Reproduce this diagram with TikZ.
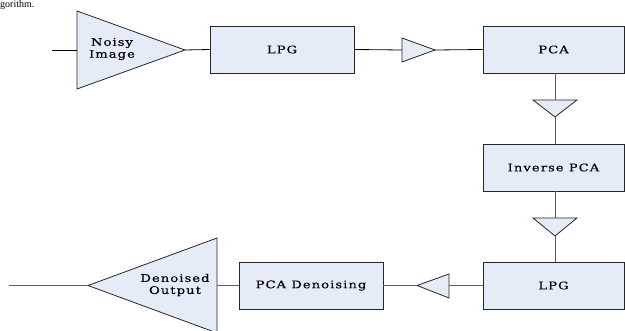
\documentclass[tikz,border=0pt]{standalone}
\usepackage{fontspec}
\setmainfont{Liberation Serif}
\newfontfamily\blockfont[LetterSpace=10, FakeStretch=1.25, FakeBold=0.2]{DejaVu Serif}
\definecolor{blockfill}{HTML}{E6ECF7}
\definecolor{wire}{HTML}{5E5E5E}
\tikzset{
  blockbox/.style={draw=black!85, fill=blockfill, line width=0.8pt, minimum width=144pt, minimum height=47pt,
    inner sep=0pt, font=\blockfont\fontsize{10.5}{12}\selectfont},
  ampshape/.style={draw=black!85, fill=blockfill, line width=0.8pt, line join=miter},
  toplink/.style={draw=black, line width=0.8pt},
  link/.style={draw=wire, line width=1pt},
  amplabel/.style={font=\blockfont\fontsize{10.5}{12}\selectfont, align=center, inner sep=0pt}
}
\begin{document}
\begin{tikzpicture}[x=1pt, y=-1pt]
\useasboundingbox (0,0) rectangle (625,331);
\begin{scope}
\clip (0,0) rectangle (625,331);
% tail of the preceding paragraph
\node[anchor=base west, inner sep=0pt, font=\fontsize{10}{12}\selectfont] (prev) at (0,7.5) {gorithm.};

% processing blocks
\node[blockbox, minimum width=144pt] (lpg1) at (282,49.5) {LPG};
\node[blockbox, minimum width=141pt] (pca) at (553.5,49.5) {PCA};
\node[blockbox, minimum width=141pt] (ipca) at (553.5,167.5) {Inverse PCA};
\node[blockbox, minimum width=141pt] (lpg2) at (553.5,285.5) {LPG};
\node[blockbox, minimum width=144pt] (den) at (311,285.5) {PCA Denoising};

% input amplifier
\coordinate (inA) at (77,50);
\coordinate (inT) at (185,50);
\coordinate (inS) at (52,50);
\path[ampshape] (77,11) -- (77,89) -- (inT) -- cycle;
\node[amplabel] (inlabel) at (112,49) {Noisy\\Image};

% output amplifier
\coordinate (outB) at (217,285.5);
\coordinate (outT) at (88,285.5);
\coordinate (outE) at (9,285.5);
\path[ampshape] (217,238) -- (217,333) -- (outT) -- cycle;
\node[amplabel] (outlabel) at (175,285) {Denoised\\Output};

% small buffers
\coordinate (b1B) at (402,50);
\coordinate (b1T) at (435,50);
\path[ampshape] (402,38) -- (402,62) -- (b1T) -- cycle;

\coordinate (b2B) at (555,100);
\coordinate (b2T) at (555,117);
\path[ampshape] (533,100) -- (577,100) -- (b2T) -- cycle;

\coordinate (b3B) at (555,218);
\coordinate (b3T) at (555,236);
\path[ampshape] (533,218) -- (577,218) -- (b3T) -- cycle;

\coordinate (b4B) at (449,285.5);
\coordinate (b4T) at (417,285.5);
\path[ampshape] (449,274) -- (449,298) -- (b4T) -- cycle;

% connectors
\draw[toplink] (inS) -- (inA);
\draw[toplink] (inT) -- (lpg1.west);
\draw[toplink] (lpg1.east) -- (b1B);
\draw[toplink] (b1T) -- (pca.west);
\draw[link] (pca.south -| b2B) -- (b2B);
\draw[link] (b2T) -- (ipca.north -| b2T);
\draw[link] (ipca.south -| b3B) -- (b3B);
\draw[link] (b3T) -- (lpg2.north -| b3T);
\draw[link] (lpg2.west) -- (b4B);
\draw[link] (b4T) -- (den.east);
\draw[link] (den.west) -- (outB);
\draw[link] (outT) -- (outE);
\end{scope}
\end{tikzpicture}
\end{document}
